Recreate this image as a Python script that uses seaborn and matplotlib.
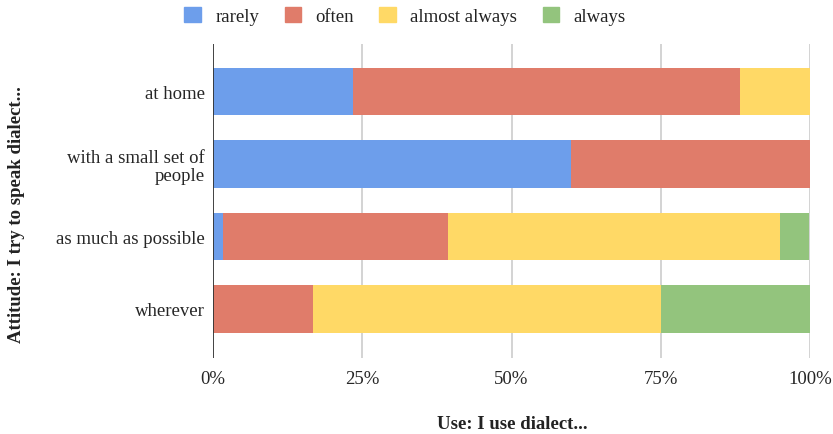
import matplotlib
matplotlib.use("Agg")
import matplotlib.pyplot as plt
import seaborn as sns
import pandas as pd
import numpy as np
from matplotlib.patches import Patch

# Share of respondents (%) per usage frequency, for each attitude
attitudes = ["at home", "with a small set of\npeople", "as much as possible", "wherever"]
levels = ["rarely", "often", "almost always", "always"]
rarely = [23.5, 60.0, 1.6, 0.0]
often = [64.7, 40.0, 37.7, 16.7]
almost_always = [11.8, 0.0, 55.7, 58.3]
always = [0.0, 0.0, 4.9, 25.0]
ticks = [0, 25, 50, 75, 100]
tick_labels = ["0%", "25%", "50%", "75%", "100%"]

colors = ["#6D9EEB", "#E07C6A", "#FFD966", "#93C47D"]

sns.set_theme(style="white")
plt.rcParams["font.family"] = ["Liberation Serif", "DejaVu Serif"]
plt.rcParams["text.color"] = "#222222"

df = pd.DataFrame({"attitude": attitudes, "rarely": rarely, "often": often,
                   "almost always": almost_always, "always": always})
cum = df[levels].cumsum(axis=1)

fig = plt.figure(figsize=(8.33, 4.35), dpi=100)
ax = fig.add_axes([213 / 833, 1 - 359 / 435, (810 - 213) / 833, (359 - 45) / 435])

# Stacked bars: draw cumulative totals from the outermost segment inward
for lvl, col in reversed(list(zip(levels, colors))):
    sns.barplot(x=cum[lvl], y=df["attitude"], orient="h", color=col,
                width=0.65, linewidth=0, saturation=1, ax=ax)

ax.set_xlim(0, 100)
ax.set_ylim(3.676, -0.655)
ax.set_xticks(ticks)
ax.set_xticklabels(tick_labels, fontsize=13.5)
ax.tick_params(axis="y", labelsize=13.5, length=0, pad=6)
ax.tick_params(axis="x", length=0, pad=9)
for lab in ax.get_yticklabels():
    lab.set_horizontalalignment("right")
    lab.set_multialignment("right")
    lab.set_linespacing(1.1)

for t in ticks[1:]:
    ax.axvline(t, color="#CCCCCC", lw=1.2, zorder=0)
ax.axvline(0, color="#333333", lw=1.3, zorder=5)
for s in ax.spines.values():
    s.set_visible(False)

ax.set_xlabel("")
ax.set_ylabel("")
fig.text(512 / 833, 1 - 425 / 435, "Use: I use dialect...", ha="center", va="center",
         fontsize=13.5, fontweight="bold")
fig.text(17 / 833, 1 - 215 / 435, "Attitude: I try to speak dialect...", ha="center",
         va="center", rotation=90, fontsize=13.5, fontweight="bold")

handles = [Patch(facecolor=c, edgecolor=c, label=l) for l, c in zip(levels, colors)]
fig.legend(handles=handles, loc="center", bbox_to_anchor=(405 / 833, 1 - 17 / 435),
           ncol=4, frameon=False, fontsize=13.5, handlelength=0.9, handleheight=0.9,
           handletextpad=0.75, columnspacing=1.35, borderaxespad=0)

fig.savefig("out.png", dpi=100)
